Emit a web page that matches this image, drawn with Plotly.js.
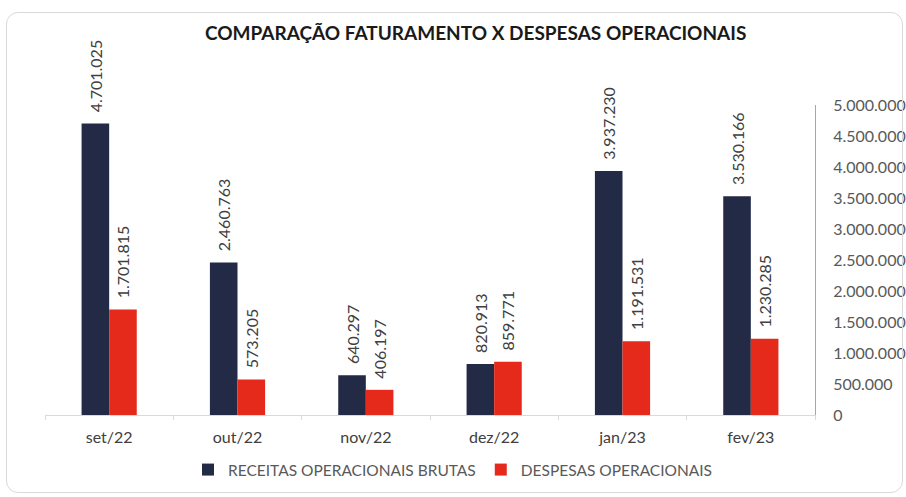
<!DOCTYPE html>
<html>
<head>
<meta charset="utf-8">
<script src="https://cdn.plot.ly/plotly-3.0.1.min.js"></script>
<style>
  html, body { margin: 0; padding: 0; background: #ffffff; }
  #wrap { position: relative; width: 906px; height: 497px; }
  #chart { width: 906px; height: 497px; }
  #frame { position: absolute; left: 6px; top: 12px; width: 895px; height: 479px;
           border: 1px solid #d9d9d9; border-radius: 12px; pointer-events: none; }
</style>
</head>
<body>
<div id="wrap">
  <div id="chart"></div>
  <div id="frame"></div>
</div>
<script>
const categories = ["set/22", "out/22", "nov/22", "dez/22", "jan/23", "fev/23"];
const receitas = [4701025, 2460763, 640297, 820913, 3937230, 3530166];
const despesas = [1701815, 573205, 406197, 859771, 1191531, 1230285];
const seriesNames = ["RECEITAS OPERACIONAIS BRUTAS", "DESPESAS OPERACIONAIS"];
const yTicks = [0, 500000, 1000000, 1500000, 2000000, 2500000, 3000000, 3500000, 4000000, 4500000, 5000000];

const FONT = "Lato, 'Open Sans', 'DejaVu Sans', sans-serif";
const NAVY = "#232a45";
const RED = "#e5291b";

const labelFont = { family: FONT, size: 16, color: "#404040" };
const LABEL_TPL = "\u00A0\u00A0%{y:,d}";

const traces = [
  {
    type: "bar", name: seriesNames[0], x: categories, y: receitas,
    marker: { color: NAVY },
    text: receitas, texttemplate: LABEL_TPL, textposition: "outside",
    textangle: -90, outsidetextfont: labelFont, constraintext: "none",
    cliponaxis: false, hoverinfo: "skip"
  },
  {
    type: "bar", name: seriesNames[1], x: categories, y: despesas,
    marker: { color: RED },
    text: despesas, texttemplate: LABEL_TPL, textposition: "outside",
    textangle: -90, outsidetextfont: labelFont, constraintext: "none",
    cliponaxis: false, hoverinfo: "skip"
  }
];

const layout = {
  width: 906, height: 497,
  margin: { l: 45, r: 91, t: 105, b: 82 },
  paper_bgcolor: "#ffffff", plot_bgcolor: "#ffffff",
  separators: ",.",
  font: { family: FONT, color: "#404040" },
  title: {
    text: "<b>COMPARAÇÃO FATURAMENTO X DESPESAS OPERACIONAIS</b>",
    font: { family: FONT, size: 19, color: "#1a1a1a" },
    xref: "container", x: 0.525, xanchor: "center",
    yref: "container", y: 1 - 33 / 497, yanchor: "middle"
  },
  barmode: "group", bargap: 0.57, bargroupgap: 0,
  xaxis: {
    type: "category",
    showline: true, linecolor: "#d9d9d9", linewidth: 1,
    ticks: "outside", tickson: "boundaries", ticklen: 4, tickcolor: "#d9d9d9",
    tickfont: { family: FONT, size: 16, color: "#404040" },
    ticklabelstandoff: 8,
    showgrid: false, zeroline: false, fixedrange: true
  },
  yaxis: {
    side: "right", range: [0, 5000000],
    tickvals: yTicks, tickformat: ",d",
    showline: true, linecolor: "#a6a6a6", linewidth: 1,
    ticks: "", ticklabelstandoff: 14,
    tickfont: { family: FONT, size: 16, color: "#595959" },
    showgrid: false, zeroline: false, fixedrange: true
  },
  showlegend: true,
  legend: {
    orientation: "h",
    xref: "container", x: 0.5, xanchor: "center",
    yref: "container", y: 1 - 470 / 497, yanchor: "middle",
    font: { family: FONT, size: 15.5, color: "#595959" },
    traceorder: "normal", itemclick: false, itemdoubleclick: false
  }
};

Plotly.newPlot("chart", traces, layout, { displayModeBar: false, staticPlot: true });
</script>
</body>
</html>
